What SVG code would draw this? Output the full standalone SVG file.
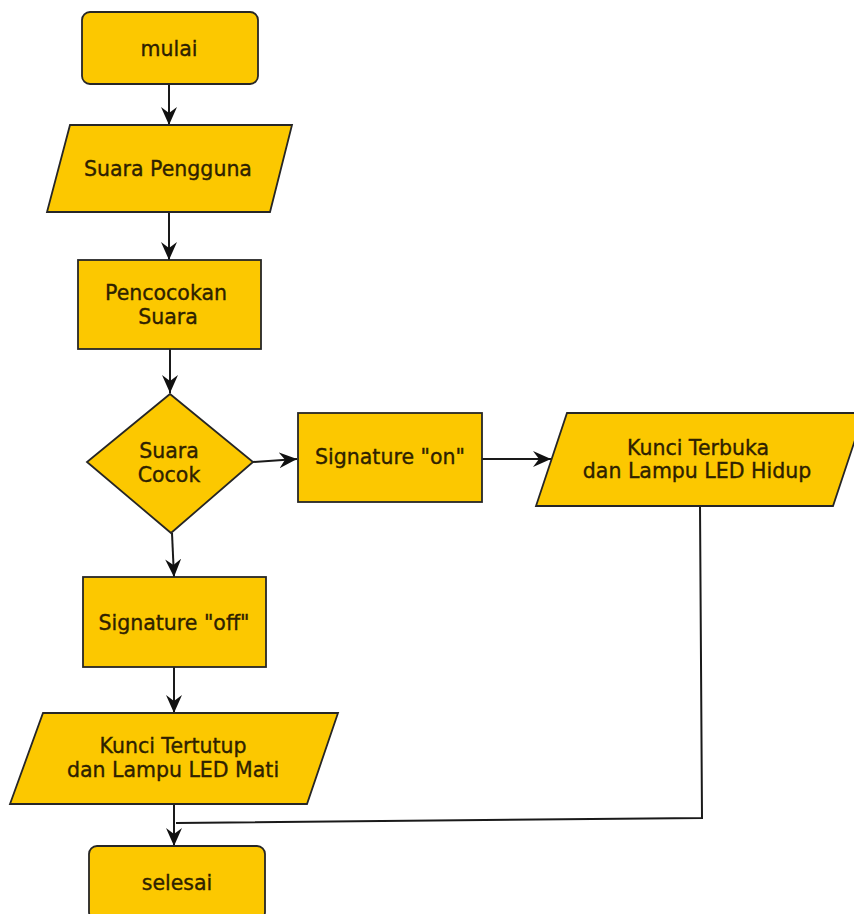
<svg xmlns="http://www.w3.org/2000/svg" width="854" height="914" viewBox="0 0 854 914">
<style>
.n{fill:#fcc800;stroke:#262626;stroke-width:1.8}
.t{font-family:"DejaVu Sans","Liberation Sans",sans-serif;font-size:20.5px;fill:#2e2100;stroke:#2e2100;stroke-width:0.35;text-anchor:middle}
.c{fill:none;stroke:#1a1a1a;stroke-width:2}
</style>
<defs>
<marker id="ah" markerUnits="userSpaceOnUse" markerWidth="20" markerHeight="18" refX="18" refY="8" orient="auto">
<path d="M0,0 L18,8 L0,16 L6,8 Z" fill="#111"/>
</marker>
</defs>
<rect width="854" height="914" fill="#fff"/>
<g id="connectors">
<line class="c" x1="169" y1="84" x2="169" y2="125" marker-end="url(#ah)"/>
<line class="c" x1="169" y1="212" x2="169" y2="260" marker-end="url(#ah)"/>
<line class="c" x1="170" y1="349" x2="170" y2="393" marker-end="url(#ah)"/>
<line class="c" x1="253" y1="462" x2="297" y2="459" marker-end="url(#ah)"/>
<line class="c" x1="482" y1="459" x2="551" y2="459" marker-end="url(#ah)"/>
<line class="c" x1="172" y1="533" x2="174" y2="577" marker-end="url(#ah)"/>
<line class="c" x1="174" y1="667" x2="174" y2="713" marker-end="url(#ah)"/>
<line class="c" x1="174" y1="804" x2="174" y2="846" marker-end="url(#ah)"/>
<polyline class="c" points="700,506 702,818 176,823"/>
</g>
<g id="mulai">
<rect class="n" x="82" y="12" width="176" height="72" rx="8"/>
<text class="t" x="169" y="56">mulai</text>
</g>
<g id="suara-pengguna">
<polygon class="n" points="70,125 292,125 270,212 47,212"/>
<text class="t" x="168" y="176">Suara Pengguna</text>
</g>
<g id="pencocokan">
<rect class="n" x="78" y="260" width="183" height="89"/>
<text class="t" x="166" y="300">Pencocokan</text>
<text class="t" x="168" y="324">Suara</text>
</g>
<g id="suara-cocok">
<polygon class="n" points="170,394 253,462 171,533 87,462"/>
<text class="t" x="169" y="458">Suara</text>
<text class="t" x="169" y="482">Cocok</text>
</g>
<g id="signature-on">
<rect class="n" x="298" y="413" width="184" height="89"/>
<text class="t" x="390" y="464">Signature "on"</text>
</g>
<g id="kunci-terbuka">
<polygon class="n" points="567,413 864,413 833,506 536,506"/>
<text class="t" x="698" y="455">Kunci Terbuka</text>
<text class="t" x="697" y="478">dan Lampu LED Hidup</text>
</g>
<g id="signature-off">
<rect class="n" x="83" y="577" width="183" height="90"/>
<text class="t" x="174" y="630">Signature "off"</text>
</g>
<g id="kunci-tertutup">
<polygon class="n" points="43,713 338,713 307,804 10,804"/>
<text class="t" x="173" y="753">Kunci Tertutup</text>
<text class="t" x="173" y="777">dan Lampu LED Mati</text>
</g>
<g id="selesai">
<rect class="n" x="89" y="846" width="176" height="74" rx="8"/>
<text class="t" x="177" y="890">selesai</text>
</g>
</svg>
